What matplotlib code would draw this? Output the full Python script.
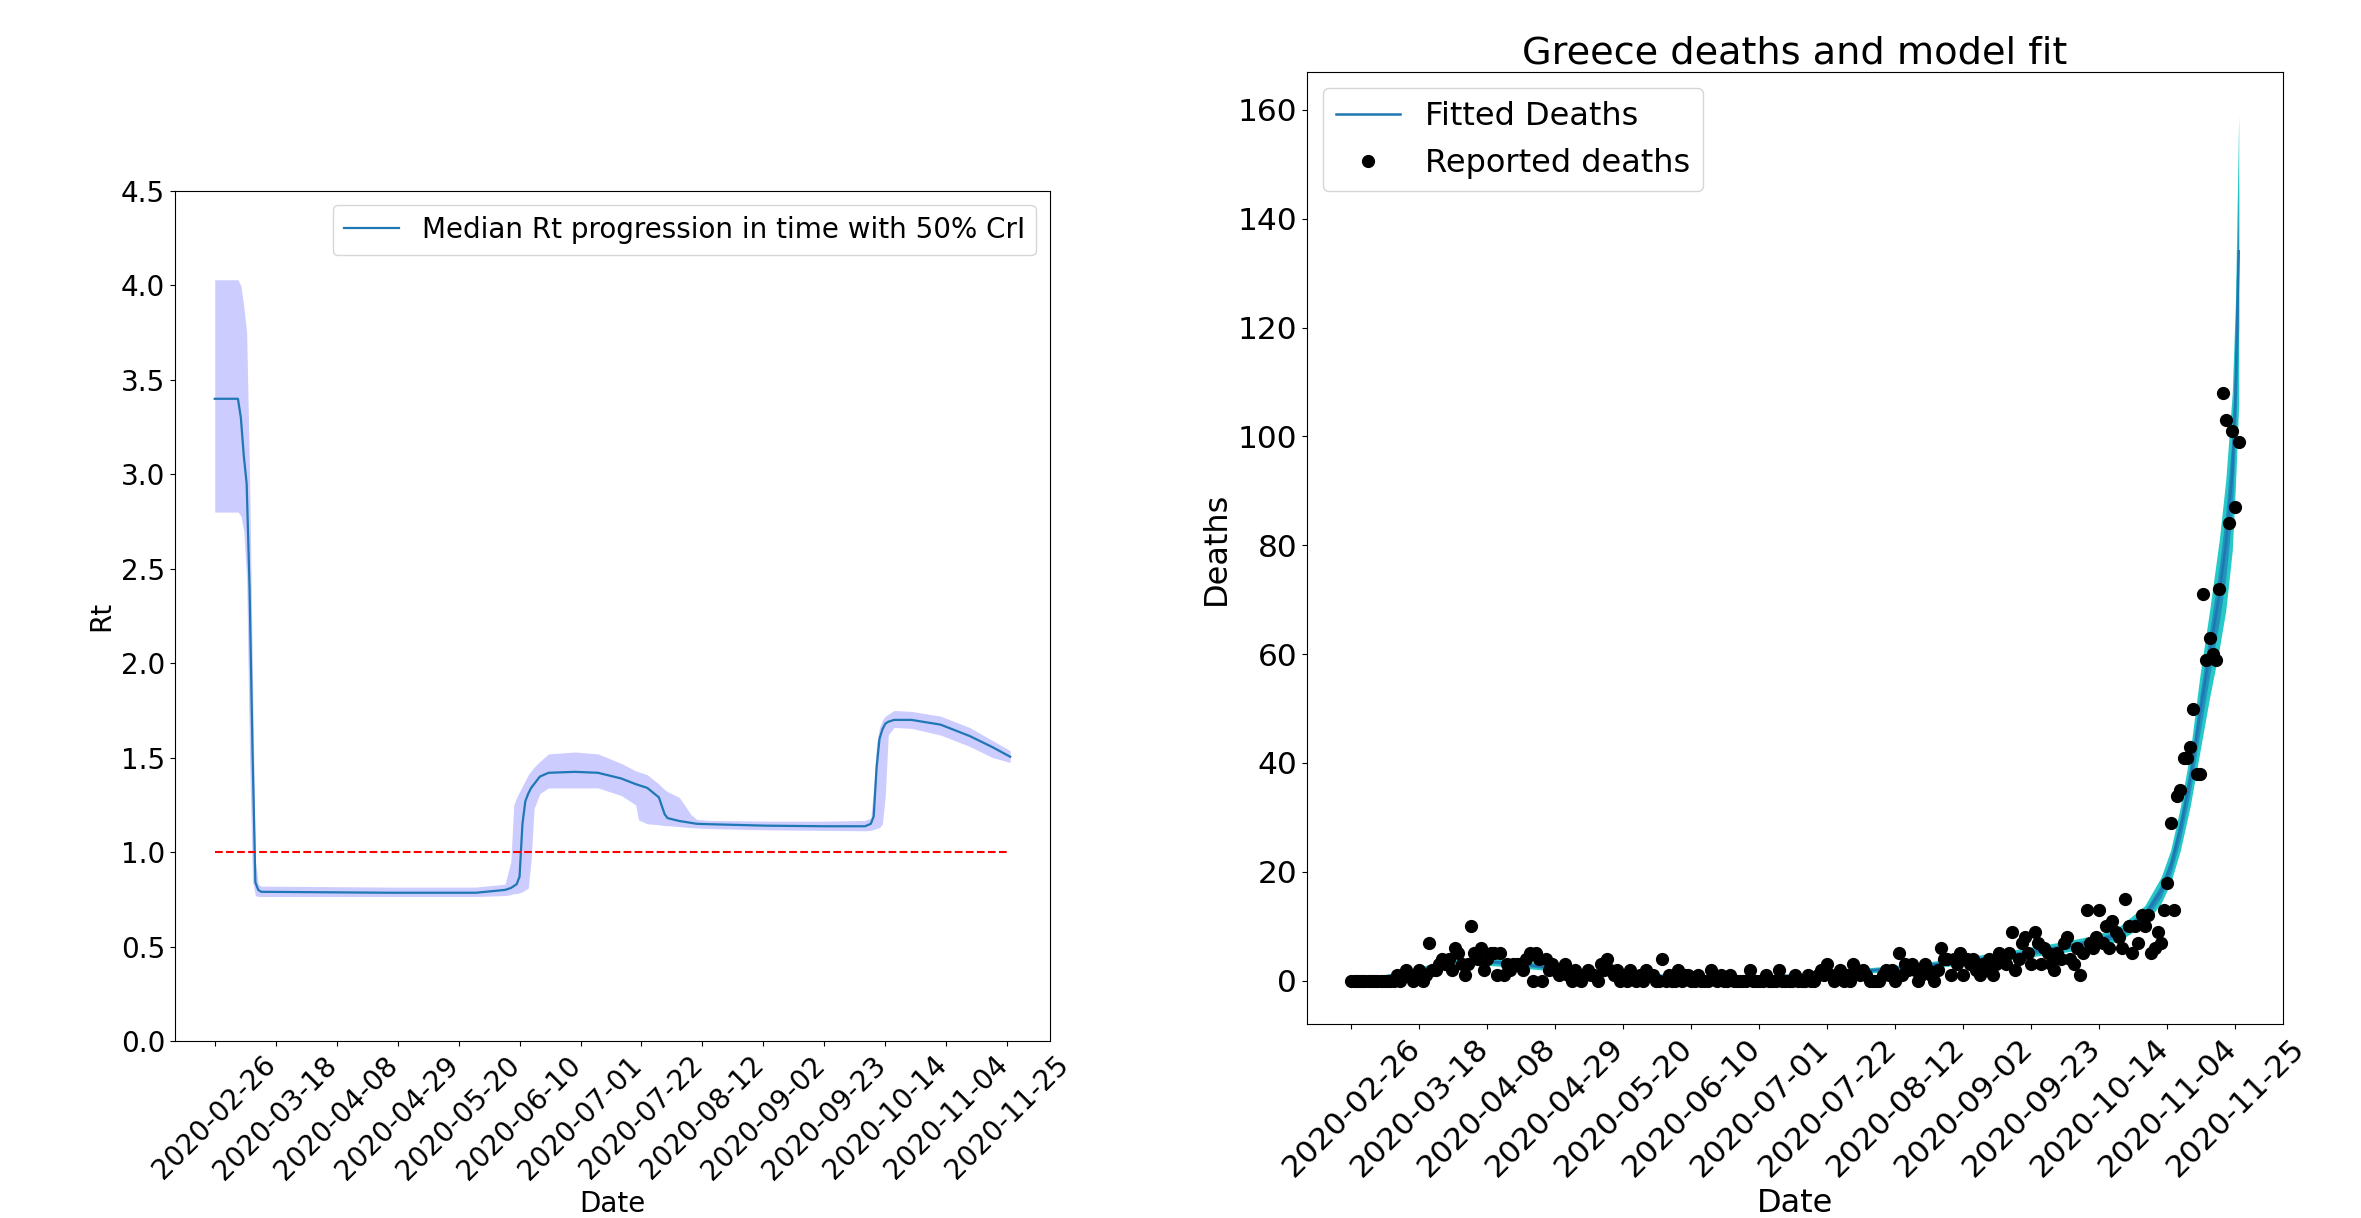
import numpy as np
import pandas as pd
import matplotlib
matplotlib.use('Agg')
import matplotlib.pyplot as plt


start = pd.Timestamp('2020-02-26')


def to_dates(days):
    return start + pd.to_timedelta(np.asarray(days), unit='D')


# ======================================================================================================================
# Left panel: Rt (days counted from 2020-02-26)
rt_days = [0, 8, 9, 10, 11, 12, 13, 14, 15, 16, 60, 90, 100, 102, 103, 104, 105, 106, 107, 108, 109, 110, 112,
           115, 124, 132, 140, 145, 146, 149, 153, 155, 156, 160, 164, 166, 170, 190, 210, 224, 226, 227, 228,
           229, 230, 231, 232, 234, 240, 250, 260, 268, 274]
rt_median = [3.40, 3.40, 3.30, 3.10, 2.95, 2.40, 1.55, 0.84, 0.80, 0.79, 0.785, 0.785, 0.80, 0.81, 0.82, 0.83,
             0.87, 1.15, 1.27, 1.31, 1.34, 1.36, 1.40, 1.42, 1.425, 1.42, 1.39, 1.36, 1.355, 1.34, 1.29, 1.20,
             1.18, 1.165, 1.155, 1.15, 1.148, 1.14, 1.137, 1.137, 1.15, 1.19, 1.45, 1.60, 1.65, 1.68, 1.69,
             1.70, 1.70, 1.675, 1.615, 1.555, 1.505]
rt_lower = [2.80, 2.80, 2.78, 2.70, 2.45, 1.50, 0.85, 0.77, 0.765, 0.765, 0.765, 0.765, 0.77, 0.775, 0.78, 0.78,
            0.785, 0.79, 0.80, 0.81, 0.96, 1.23, 1.31, 1.34, 1.34, 1.34, 1.30, 1.25, 1.17, 1.15, 1.145, 1.14,
            1.14, 1.135, 1.13, 1.128, 1.125, 1.118, 1.115, 1.113, 1.115, 1.12, 1.125, 1.13, 1.15, 1.30, 1.62,
            1.66, 1.655, 1.62, 1.56, 1.50, 1.475]
rt_upper = [4.03, 4.03, 4.00, 3.89, 3.75, 3.00, 1.95, 0.95, 0.83, 0.82, 0.815, 0.815, 0.83, 0.95, 1.25, 1.29,
            1.32, 1.35, 1.38, 1.41, 1.43, 1.45, 1.48, 1.52, 1.53, 1.52, 1.47, 1.43, 1.425, 1.41, 1.36, 1.33,
            1.32, 1.29, 1.20, 1.173, 1.168, 1.164, 1.164, 1.168, 1.18, 1.35, 1.58, 1.66, 1.70, 1.72, 1.73,
            1.75, 1.745, 1.72, 1.66, 1.59, 1.537]
rt_threshold = 1.0
last_day = 274

# Right panel: reported daily deaths, one value per day from 2020-02-26
deaths = [0, 0, 0, 0, 0, 0, 0, 0, 0, 0, 0, 0, 0, 0, 1, 0, 1, 2, 1, 0,
          1, 2, 0, 1, 7, 2, 2, 3, 4, 3, 4, 2, 6, 5, 3, 1, 3, 10, 5, 4,
          6, 2, 4, 5, 5, 1, 5, 1, 3, 2, 3, 3, 3, 2, 4, 5, 0, 5, 4, 0,
          4, 2, 3, 2, 1, 2, 3, 1, 0, 2, 1, 0, 1, 2, 1, 1, 0, 3, 2, 4,
          2, 1, 2, 0, 1, 0, 2, 1, 0, 1, 0, 2, 1, 1, 0, 0, 4, 0, 1, 0,
          0, 2, 0, 1, 1, 0, 0, 1, 0, 0, 0, 2, 1, 0, 1, 0, 0, 1, 0, 0,
          0, 0, 0, 2, 0, 0, 0, 0, 1, 0, 0, 0, 2, 0, 0, 0, 0, 1, 0, 0,
          0, 1, 0, 0, 1, 2, 1, 3, 1, 0, 1, 2, 0, 1, 0, 3, 2, 1, 2, 1,
          0, 0, 0, 0, 1, 2, 1, 2, 0, 5, 1, 3, 2, 3, 2, 0, 1, 3, 2, 1,
          0, 2, 6, 4, 4, 1, 4, 3, 5, 1, 4, 3, 4, 2, 1, 3, 2, 4, 1, 3,
          5, 4, 3, 5, 9, 2, 4, 7, 8, 5, 3, 9, 7, 3, 6, 5, 3, 2, 5, 4,
          7, 8, 4, 3, 6, 1, 5, 13, 7, 6, 8, 13, 7, 10, 6, 11, 9, 8, 6, 15,
          10, 5, 10, 7, 12, 10, 12, 5, 6, 9, 7, 13, 18, 29, 13, 34, 35, 41, 41, 43,
          50, 38, 38, 71, 59, 63, 60, 59, 72, 108, 103, 84, 101, 87, 99]

# Model fit: median with 50% and 95% credible bands
fit_days = [0, 10, 20, 30, 40, 50, 60, 70, 80, 90, 100, 110, 120, 130, 140, 150, 160, 170, 180, 190, 200, 210,
            220, 230, 237, 245, 250, 253, 256, 259, 262, 265, 268, 270, 272, 273, 274]
fit_median = [0.2, 0.7, 1.8, 3.1, 3.6, 3.2, 2.5, 1.8, 1.3, 1.0, 0.8, 0.7, 0.7, 0.8, 1.0, 1.4, 1.9, 2.4, 3.0, 3.7,
              4.4, 5.3, 6.2, 7.3, 8.6, 12.0, 16.5, 21, 28, 37, 49, 60, 71, 80, 93, 108, 134]
fit_lo95 = [0.0, 0.3, 1.2, 2.4, 2.9, 2.5, 1.9, 1.3, 0.9, 0.6, 0.5, 0.4, 0.4, 0.5, 0.6, 1.0, 1.4, 1.9, 2.4, 3.0,
            3.6, 4.4, 5.2, 6.2, 7.3, 10.3, 14.2, 18, 24, 32, 42, 52, 61, 68, 79, 91, 106]
fit_hi95 = [0.5, 1.1, 2.4, 3.8, 4.3, 3.9, 3.1, 2.3, 1.7, 1.4, 1.1, 1.0, 1.0, 1.1, 1.4, 1.8, 2.4, 2.9, 3.6, 4.4,
            5.2, 6.2, 7.2, 8.4, 9.9, 13.8, 19, 24, 32, 42, 56, 68, 81, 92, 108, 125, 159]
fit_lo50 = [0.1, 0.5, 1.5, 2.8, 3.3, 2.9, 2.2, 1.6, 1.1, 0.8, 0.65, 0.55, 0.55, 0.65, 0.8, 1.2, 1.65, 2.15, 2.7,
            3.35, 4.0, 4.85, 5.7, 6.75, 7.95, 11.1, 15.3, 19.5, 26, 34.5, 45.5, 56, 66, 74, 86, 100, 120]
fit_hi50 = [0.3, 0.9, 2.1, 3.45, 3.95, 3.55, 2.8, 2.05, 1.5, 1.2, 0.95, 0.85, 0.85, 0.95, 1.2, 1.6, 2.15, 2.65,
            3.3, 4.05, 4.8, 5.75, 6.7, 7.85, 9.25, 12.9, 17.7, 22.5, 30, 39.5, 52.5, 64, 76, 86, 100, 116, 147]

tick_dates = pd.date_range('2020-02-26', '2020-11-25', freq='21D')
tick_labels = [d.strftime('%Y-%m-%d') for d in tick_dates]

# ======================================================================================================================
fig = plt.figure(figsize=(23.61, 12.18), dpi=100)
ax1 = fig.add_axes([0.0741, 0.1453, 0.3706, 0.6979])
ax2 = fig.add_axes([0.5536, 0.1593, 0.4134, 0.7816])

# left: Rt progression
fs1 = 20
rt_dates = to_dates(rt_days)
ax1.fill_between(rt_dates, rt_lower, rt_upper, color='blue', alpha=0.2, linewidth=0)
ax1.plot(rt_dates, rt_median, color='#1f77b4', linewidth=1.6,
         label='Median Rt progression in time with 50% CrI')
ax1.plot(to_dates([0, last_day]), [rt_threshold, rt_threshold], 'r--', linewidth=1.5)
ax1.set_ylim(0, 4.5)
ax1.set_xticks(tick_dates)
ax1.set_xticklabels(tick_labels, rotation=45)
ax1.tick_params(labelsize=fs1)
ax1.set_xlabel('Date', fontsize=fs1)
ax1.set_ylabel('Rt', fontsize=fs1)
ax1.legend(loc='upper right', fontsize=fs1)

# right: deaths and model fit
fs2 = 23
fit_dates = to_dates(fit_days)
death_dates = to_dates(np.arange(len(deaths)))
ax2.fill_between(fit_dates, fit_lo95, fit_hi95, color='c', alpha=0.85, linewidth=0)
ax2.fill_between(fit_dates, fit_lo50, fit_hi50, color='#1f77b4', alpha=0.65, linewidth=0)
ax2.plot(fit_dates, fit_median, color='#1f77b4', linewidth=1.8, label='Fitted Deaths')
ax2.plot(death_dates, deaths, 'o', color='black', markersize=8.5, label='Reported deaths', zorder=3)
ax2.set_xticks(tick_dates)
ax2.set_xticklabels(tick_labels, rotation=45)
ax2.tick_params(labelsize=22.5)
ax2.set_xlabel('Date', fontsize=fs2)
ax2.set_ylabel('Deaths', fontsize=fs2)
ax2.set_title('Greece deaths and model fit', fontsize=27.5)
ax2.legend(loc='upper left', fontsize=fs2)

fig.savefig('out.png', dpi=100)
